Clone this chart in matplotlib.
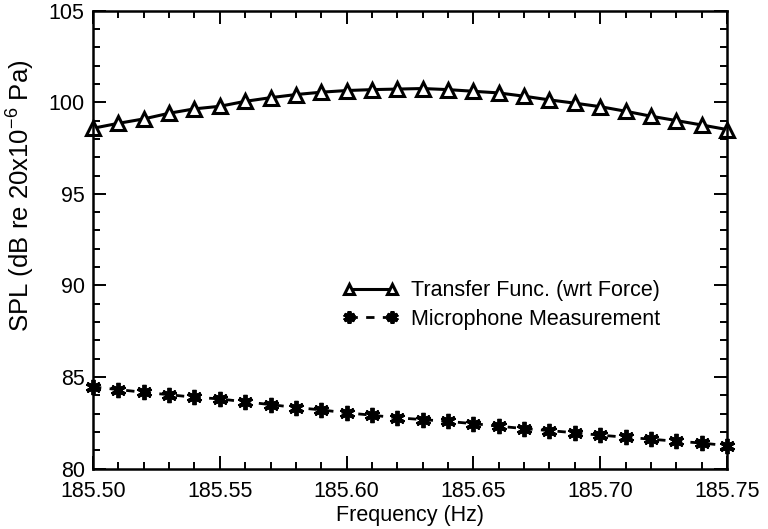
import matplotlib
matplotlib.use("Agg")
import matplotlib.pyplot as plt
from matplotlib.ticker import MultipleLocator, FormatStrFormatter

plt.rcParams['font.family'] = ['Liberation Sans', 'DejaVu Sans']
plt.rcParams['mathtext.default'] = 'regular'

freq = [185.50, 185.51, 185.52, 185.53, 185.54, 185.55, 185.56, 185.57, 185.58,
        185.59, 185.60, 185.61, 185.62, 185.63, 185.64, 185.65, 185.66, 185.67,
        185.68, 185.69, 185.70, 185.71, 185.72, 185.73, 185.74, 185.75]
transfer = [98.58, 98.85, 99.09, 99.40, 99.64, 99.78, 100.05, 100.25, 100.42,
            100.55, 100.64, 100.69, 100.72, 100.75, 100.69, 100.60, 100.51,
            100.33, 100.13, 99.95, 99.76, 99.51, 99.24, 99.00, 98.76, 98.51]
micro = [84.45, 84.31, 84.16, 84.03, 83.89, 83.80, 83.64, 83.49, 83.33, 83.20,
         83.04, 82.91, 82.77, 82.67, 82.57, 82.45, 82.31, 82.18, 82.07, 81.95,
         81.82, 81.71, 81.60, 81.49, 81.39, 81.25]

W, H = 768, 529
fig = plt.figure(figsize=(W / 100, H / 100), dpi=100)
ax_l, ax_r, ax_t, ax_b = 93, 727, 10.7, 468.5
ax = fig.add_axes([ax_l / W, 1 - ax_b / H, (ax_r - ax_l) / W, (ax_b - ax_t) / H])

ax.plot(freq, transfer, color='black', lw=2.2, marker='^', ms=9.5,
        mfc='white', mec='black', mew=2.2, clip_on=False,
        label='Transfer Func. (wrt Force)')
ax.plot(freq, micro, color='black', lw=2.0, ls=(0, (3, 3)), marker=(6, 2, 0),
        ms=11, mec='black', mew=2.8, clip_on=False,
        label='Microphone Measurement')

ax.set_xlim(185.50, 185.75)
ax.set_ylim(80, 105)
ax.xaxis.set_major_locator(MultipleLocator(0.05))
ax.xaxis.set_minor_locator(MultipleLocator(0.01))
ax.xaxis.set_major_formatter(FormatStrFormatter('%.2f'))
ax.yaxis.set_major_locator(MultipleLocator(5))
ax.yaxis.set_minor_locator(MultipleLocator(1))

ax.tick_params(which='both', direction='in', top=True, right=True,
               labelsize=15.5, width=1.4)
ax.tick_params(which='major', length=9.5)
ax.tick_params(which='minor', length=5)
ax.tick_params(axis='x', which='major', pad=9)
ax.tick_params(axis='y', which='major', pad=6)
for s in ax.spines.values():
    s.set_linewidth(1.8)

ax.set_xlabel('Frequency (Hz)', fontsize=15.5)
ax.xaxis.set_label_coords(0.5, (ax_b - 505) / (ax_b - ax_t))
ax.set_ylabel('SPL (dB re 20x10$^{-6}$ Pa)', fontsize=18.5)
ax.yaxis.set_label_coords((37 - ax_l) / (ax_r - ax_l), (ax_b - 196) / (ax_b - ax_t))

ax.legend(loc='center left', bbox_to_anchor=(323 / W, 1 - 305 / H),
          bbox_transform=fig.transFigure, frameon=False,
          numpoints=2, handlelength=2.6, fontsize=15.5, labelspacing=0.35,
          handletextpad=0.6, markerscale=0.8)

fig.savefig('out.png', dpi=100)
